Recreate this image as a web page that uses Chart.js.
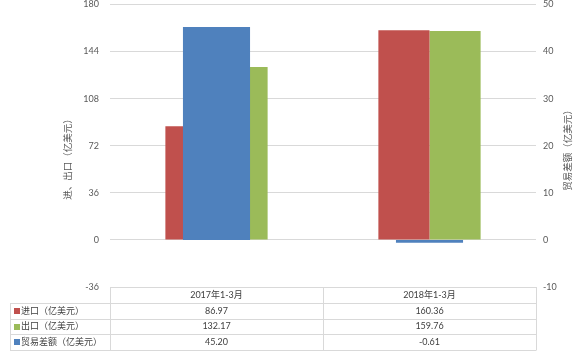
<!DOCTYPE html>
<html lang="zh-CN">
<head>
<meta charset="utf-8">
<title>进出口及贸易差额</title>
<script src="https://cdn.jsdelivr.net/npm/chart.js@4.4.1/dist/chart.umd.min.js"></script>
<style>
  html, body { margin: 0; padding: 0; background: #fff; }
  #wrap { position: relative; width: 584px; height: 351px; }
</style>
</head>
<body>
<div id="wrap"><canvas id="trade-chart" width="584" height="351"></canvas></div>
<script>
'use strict';

// ── Data ─────────────────────────────────────────────────────────────────────
const CATEGORIES   = ['2017年1-3月', '2018年1-3月'];
const IMPORTS      = [86.97, 160.36];
const EXPORTS      = [132.17, 159.76];
const BALANCE      = [45.20, -0.61];
const LEFT_TICKS   = [-36, 0, 36, 72, 108, 144, 180];
const RIGHT_TICKS  = [-10, 0, 10, 20, 30, 40, 50];
const SERIES_NAMES = ['进口（亿美元）', '出口（亿美元）', '贸易差额（亿美元）'];
const LEFT_TITLE   = '进、出口（亿美元）';
const RIGHT_TITLE  = '贸易差额（亿美元）';

(function () {
  // ── Look ───────────────────────────────────────────────────────────────────
  const COLORS     = ['#C0504D', '#9BBB59', '#4F81BD'];
  const FONT       = "Lato, 'Noto Sans CJK SC', sans-serif";
  const TICK_COLOR = '#595959';
  const TEXT_COLOR = '#404040';
  const LINE_COLOR = '#D9D9D9';

  const TABLE_LEFT = 10;   // px — outer edge of the legend column
  const ROW_H      = 15.8; // px — data table row height

  /** Excel-style data table under the plot plus the two rotated axis titles. */
  const tablePlugin = {
    id: 'dataTable',
    afterDraw(chart) {
      const ctx  = chart.ctx;
      const area = chart.chartArea;
      const xs   = chart.scales.x;
      const colW = (area.right - area.left) / CATEGORIES.length;
      const top  = area.bottom;
      const series = [IMPORTS, EXPORTS, BALANCE];
      const bottom = top + ROW_H * (series.length + 1);

      ctx.save();
      ctx.strokeStyle = LINE_COLOR;
      ctx.lineWidth = 1;
      ctx.beginPath();
      // header row: only spans the data columns
      ctx.moveTo(area.left, top + 0.5);
      ctx.lineTo(area.right, top + 0.5);
      for (let r = 1; r <= series.length + 1; r++) {
        const y = Math.round(top + ROW_H * r) + 0.5;
        ctx.moveTo(TABLE_LEFT, y);
        ctx.lineTo(area.right, y);
      }
      ctx.moveTo(TABLE_LEFT + 0.5, Math.round(top + ROW_H) + 0.5);
      ctx.lineTo(TABLE_LEFT + 0.5, Math.round(bottom) + 0.5);
      for (let c = 0; c <= CATEGORIES.length; c++) {
        const x = Math.round(area.left + colW * c) + 0.5;
        ctx.moveTo(x, top);
        ctx.lineTo(x, Math.round(bottom) + 0.5);
      }
      ctx.stroke();

      ctx.font = '9px ' + FONT;
      ctx.fillStyle = TEXT_COLOR;
      ctx.textBaseline = 'middle';
      ctx.textAlign = 'center';
      CATEGORIES.forEach(function (cat, i) {
        ctx.fillText(cat, xs.getPixelForValue(i), top + ROW_H / 2);
      });
      series.forEach(function (vals, r) {
        const yMid = top + ROW_H * (r + 1.5);
        vals.forEach(function (v, i) {
          ctx.fillStyle = TEXT_COLOR;
          ctx.textAlign = 'center';
          ctx.fillText(v.toFixed(2), xs.getPixelForValue(i), yMid);
        });
        ctx.fillStyle = COLORS[r];
        ctx.fillRect(TABLE_LEFT + 4, Math.round(yMid) - 3, 6, 6);
        ctx.fillStyle = TEXT_COLOR;
        ctx.textAlign = 'left';
        ctx.fillText(SERIES_NAMES[r], TABLE_LEFT + 11, yMid);
      });

      // rotated axis titles (both read bottom-to-top)
      ctx.font = '9.5px ' + FONT;
      ctx.fillStyle = TICK_COLOR;
      ctx.textAlign = 'center';
      [[LEFT_TITLE, 68, 157], [RIGHT_TITLE, 568, 148]].forEach(function (t) {
        ctx.save();
        ctx.translate(t[1], t[2]);
        ctx.rotate(-Math.PI / 2);
        ctx.fillText(t[0], 0, 0);
        ctx.restore();
      });
      ctx.restore();
    },
  };

  const tickFont = { family: FONT, size: 9, lineHeight: 1 };

  // Fixed axis widths; drop the tick padding Chart.js adds above/below the plot.
  function fitAxis(width) {
    return function (s) {
      s.width = width;
      s.paddingTop = 4.5;
      s.paddingBottom = 4.5;
    };
  }

  new Chart(document.getElementById('trade-chart'), {
    type: 'bar',
    data: {
      labels: CATEGORIES,
      datasets: [
        {
          label: SERIES_NAMES[0], data: IMPORTS, backgroundColor: COLORS[0],
          yAxisID: 'y', order: 1,
          categoryPercentage: 0.48, barPercentage: 1,
        },
        {
          label: SERIES_NAMES[1], data: EXPORTS, backgroundColor: COLORS[1],
          yAxisID: 'y', order: 1,
          categoryPercentage: 0.48, barPercentage: 1,
        },
        {
          // secondary axis, centred on the category and drawn over the pair
          label: SERIES_NAMES[2], data: BALANCE, backgroundColor: COLORS[2],
          yAxisID: 'y1', order: 0, grouped: false,
          categoryPercentage: 0.315, barPercentage: 1,
        },
      ],
    },
    options: {
      responsive: false,
      animation: false,
      devicePixelRatio: 1,
      layout: { padding: { top: 0, bottom: 64, left: 0, right: 0 } },
      plugins: { legend: { display: false }, tooltip: { enabled: false } },
      scales: {
        x: { type: 'category', display: false, offset: true },
        y: {
          position: 'left',
          min: LEFT_TICKS[0],
          max: LEFT_TICKS[LEFT_TICKS.length - 1],
          afterBuildTicks: function (s) { s.ticks = LEFT_TICKS.map(function (v) { return { value: v }; }); },
          afterFit: fitAxis(110),
          grid: { color: LINE_COLOR, drawTicks: false },
          border: { display: false },
          ticks: { color: TICK_COLOR, font: tickFont, padding: 11 },
        },
        y1: {
          position: 'right',
          min: RIGHT_TICKS[0],
          max: RIGHT_TICKS[RIGHT_TICKS.length - 1],
          afterBuildTicks: function (s) { s.ticks = RIGHT_TICKS.map(function (v) { return { value: v }; }); },
          afterFit: fitAxis(48),
          grid: { display: false, drawTicks: false },
          border: { display: false },
          ticks: { color: TICK_COLOR, font: tickFont, padding: 7 },
        },
      },
    },
    plugins: [tablePlugin],
  });
})();
</script>
</body>
</html>
